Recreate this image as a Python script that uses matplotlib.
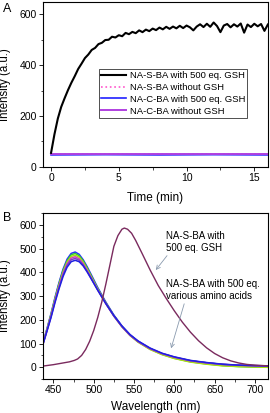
import matplotlib
matplotlib.use("Agg")
import matplotlib.pyplot as plt
from matplotlib.ticker import MultipleLocator

plt.rcParams['font.family'] = ['Liberation Sans', 'DejaVu Sans']

# ---- panel A: kinetics ----
time_min = [0.0, 0.25, 0.5, 0.75, 1.0, 1.25, 1.5, 1.75, 2.0, 2.25, 2.5, 2.75,
            3.0, 3.25, 3.5, 3.75, 4.0, 4.25, 4.5, 4.75, 5.0, 5.25, 5.5, 5.75,
            6.0, 6.25, 6.5, 6.75, 7.0, 7.25, 7.5, 7.75, 8.0, 8.25, 8.5, 8.75,
            9.0, 9.25, 9.5, 9.75, 10.0, 10.25, 10.5, 10.75, 11.0, 11.25, 11.5,
            11.75, 12.0, 12.25, 12.5, 12.75, 13.0, 13.25, 13.5, 13.75, 14.0,
            14.25, 14.5, 14.75, 15.0, 15.25, 15.5, 15.75, 16.0]
s_ba_gsh = [55, 128, 190, 236, 270, 302, 331, 357, 385, 406, 428, 442,
            460, 468, 483, 488, 499, 500, 512, 509, 518, 514, 527, 522,
            531, 526, 537, 530, 540, 534, 544, 538, 548, 541, 551, 543,
            552, 545, 555, 546, 556, 549, 537, 552, 561, 550, 563,
            551, 568, 554, 530, 556, 562, 549, 561, 552, 564,
            528, 560, 550, 563, 553, 562, 535, 560]

flat_time = [0, 4, 8, 12, 16]
s_ba_nogsh = [50, 50, 50, 50, 50]
c_ba_gsh = [47, 48, 47, 48, 47]
c_ba_nogsh = [52, 52, 52, 52, 52]

# ---- panel B: spectra ----
wl = [437, 442, 447, 452, 457, 462, 467, 472, 477, 482, 487, 492, 497, 505,
      515, 525, 535, 545, 555, 570, 585, 600, 620, 640, 660, 680, 700, 716]
aa_spectra = [
    ('#2828ff', [102, 163, 226, 295, 358, 414, 456, 480, 486, 476, 453, 423, 390, 336,
                 275, 220, 174, 137, 110, 79, 57, 42, 27, 19, 12, 8, 6, 5]),
    ('#33cc33', [100, 160, 222, 290, 352, 408, 449, 474, 480, 470, 448, 418, 385, 332,
                 272, 218, 172, 135, 107, 76, 54, 38, 23, 14, 7, 3, 1, 0]),
    ('#a8e010', [99, 158, 219, 286, 347, 402, 443, 467, 473, 464, 442, 413, 381, 329,
                 270, 216, 171, 134, 106, 75, 53, 37, 22, 13, 6, 3, 1, 0]),
    ('#d040c0', [98, 156, 216, 282, 342, 396, 436, 460, 466, 457, 436, 408, 377, 327,
                 269, 216, 171, 135, 108, 78, 57, 42, 27, 18, 12, 8, 6, 5]),
    ('#8040c0', [97, 154, 213, 278, 337, 390, 430, 453, 459, 451, 431, 404, 374, 325,
                 268, 216, 172, 136, 109, 79, 58, 43, 28, 19, 12, 9, 7, 5]),
    ('#2020e0', [96, 152, 209, 273, 331, 383, 422, 445, 451, 445, 427, 401, 372, 325,
                 269, 218, 174, 138, 111, 81, 59, 44, 29, 20, 13, 9, 7, 6]),
]
wl_gsh = [437, 450, 460, 470, 476, 480, 485, 490, 495, 500, 505, 510, 515, 520,
          525, 530, 535, 538, 542, 547, 552, 560, 570, 580, 590, 600, 610, 620,
          630, 640, 650, 660, 670, 680, 690, 700, 716]
gsh_spec = [5, 11, 17, 23, 29, 35, 50, 75, 110, 155, 210, 275, 350, 430,
            510, 555, 582, 587, 582, 565, 535, 480, 410, 345, 290, 238, 190, 148,
            112, 82, 58, 40, 27, 18, 12, 9, 6]

fig = plt.figure(figsize=(2.7, 4.13), dpi=100)
axA = fig.add_axes([0.159, 0.596, 0.833, 0.40])
axB = fig.add_axes([0.159, 0.082, 0.833, 0.402])

axA.plot(time_min, s_ba_gsh, color='black', lw=1.5, label='NA-S-BA with 500 eq. GSH', zorder=3)
axA.plot(flat_time, s_ba_nogsh, color='#ff55cc', lw=1.2, ls=':', label='NA-S-BA without GSH', zorder=2)
axA.plot(flat_time, c_ba_gsh, color='#2020ff', lw=1.2, label='NA-C-BA with 500 eq. GSH', zorder=2)
axA.plot(flat_time, c_ba_nogsh, color='#b040e0', lw=1.4, label='NA-C-BA without GSH', zorder=2)
axA.set_xlim(-0.6, 16)
axA.set_ylim(0, 650)
axA.xaxis.set_major_locator(MultipleLocator(5))
axA.xaxis.set_minor_locator(MultipleLocator(2.5))
axA.yaxis.set_major_locator(MultipleLocator(200))
axA.yaxis.set_minor_locator(MultipleLocator(100))
axA.set_xlabel('Time (min)', fontsize=8.5)
axA.set_ylabel('Intensity (a.u.)', fontsize=8.3)
axA.xaxis.set_label_coords(0.5, -0.155)
axA.yaxis.set_label_coords(-0.142, 0.5)
leg = axA.legend(loc='upper left', bbox_to_anchor=(0.249, 0.594), fontsize=6.8,
                 handlelength=2.6, handletextpad=0.4, labelspacing=0.3,
                 borderpad=0.25, borderaxespad=0, fancybox=False, frameon=True)
leg.get_frame().set_edgecolor('black')
leg.get_frame().set_linewidth(0.6)

for color, vals in aa_spectra:
    axB.plot(wl, vals, color=color, lw=1.1)
axB.plot(wl_gsh, gsh_spec, color='#7a2a5e', lw=1.0)
axB.set_xlim(437, 716)
axB.set_ylim(-50, 650)
axB.xaxis.set_major_locator(MultipleLocator(50))
axB.xaxis.set_minor_locator(MultipleLocator(25))
axB.yaxis.set_major_locator(MultipleLocator(100))
axB.yaxis.set_minor_locator(MultipleLocator(50))
axB.set_xlabel('Wavelength (nm)', fontsize=8.5)
axB.set_ylabel('Intensity (a.u.)', fontsize=8.3)
axB.xaxis.set_label_coords(0.5, -0.13)
axB.yaxis.set_label_coords(-0.142, 0.5)

axB.annotate('NA-S-BA with\n500 eq. GSH', xy=(577, 410), xytext=(590, 575),
             fontsize=7, va='top', ha='left', linespacing=1.25,
             arrowprops=dict(arrowstyle='->', color='#8a9aae', lw=0.6,
                             shrinkA=0, shrinkB=0, relpos=(0.05, 0)))
axB.annotate('NA-S-BA with 500 eq.\nvarious amino acids', xy=(596, 80), xytext=(590, 372),
             fontsize=7, va='top', ha='left', linespacing=1.25,
             arrowprops=dict(arrowstyle='->', color='#8a9aae', lw=0.6,
                             shrinkA=0, shrinkB=0, relpos=(0.2, 0)))

for ax in (axA, axB):
    ax.tick_params(which='major', direction='out', length=3, width=0.6, labelsize=7.5, pad=1.5)
    ax.tick_params(which='minor', direction='out', length=1.8, width=0.5)
    for sp in ax.spines.values():
        sp.set_linewidth(0.8)

fig.text(0.012, 0.992, 'A', fontsize=9, va='top', ha='left')
fig.text(0.012, 0.487, 'B', fontsize=9, va='top', ha='left')

fig.savefig('out.png', dpi=100)
